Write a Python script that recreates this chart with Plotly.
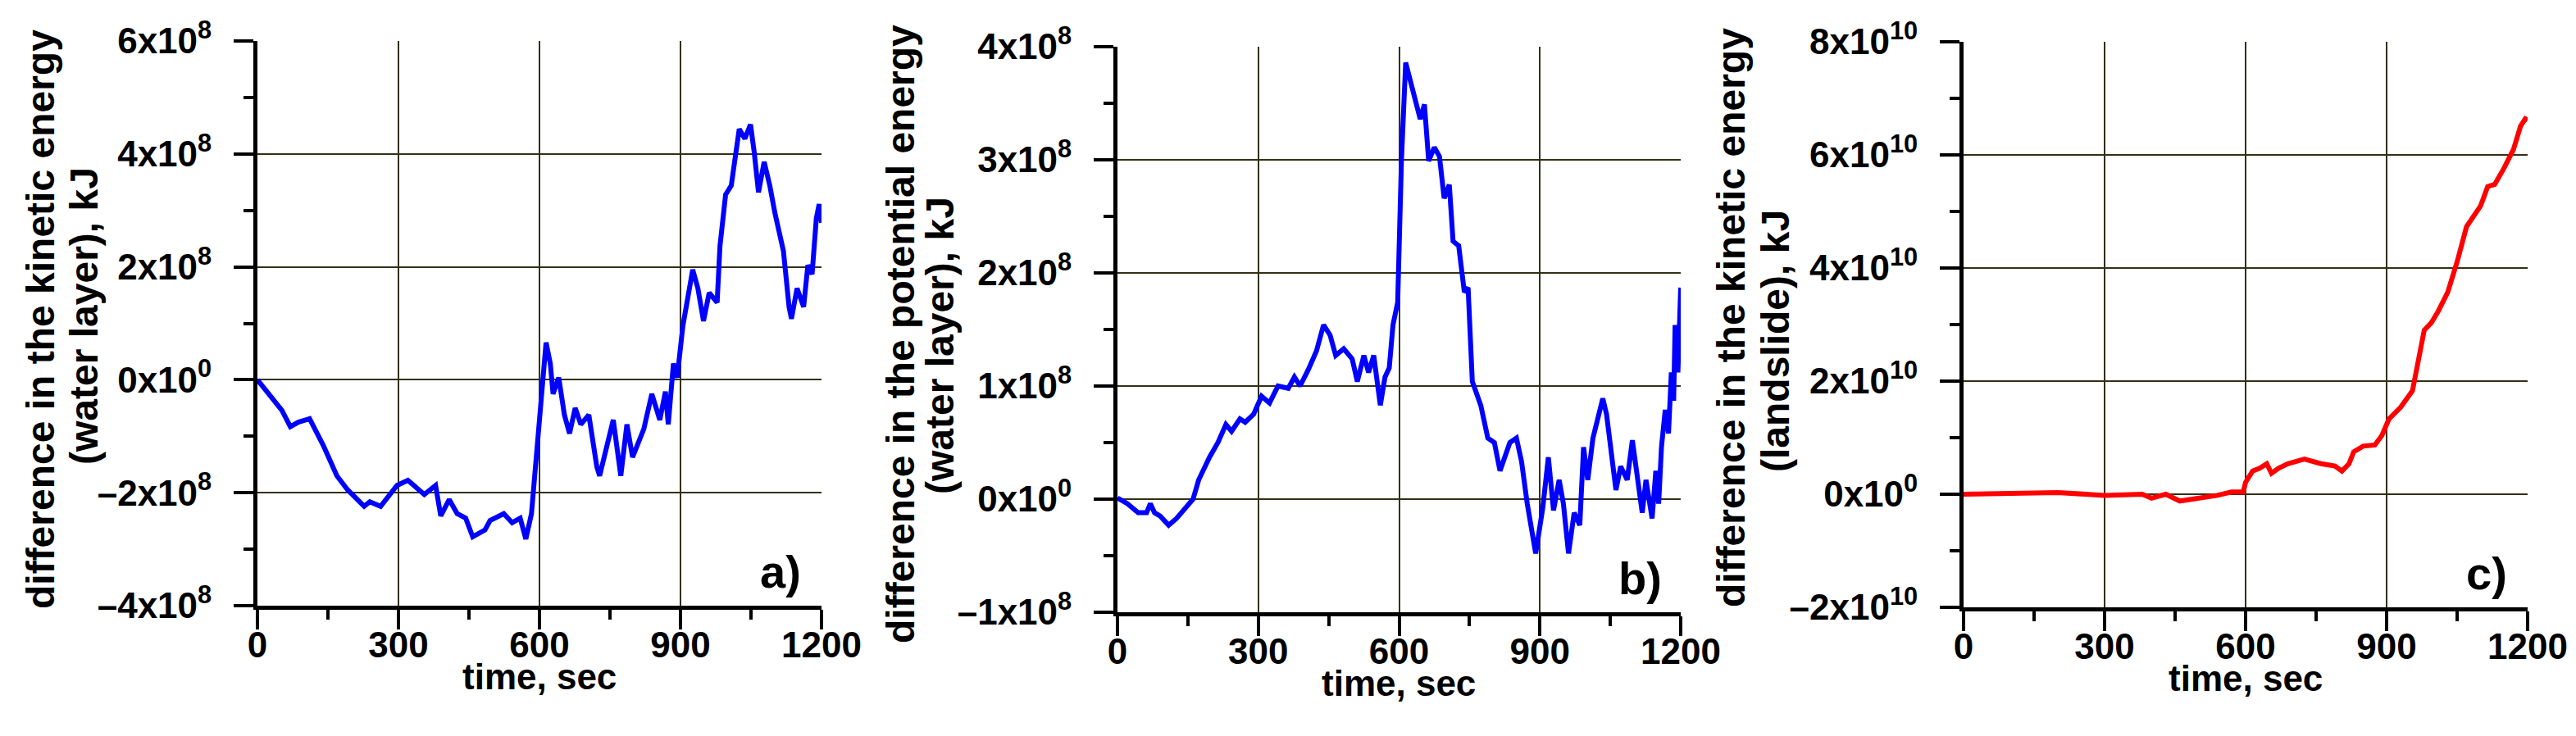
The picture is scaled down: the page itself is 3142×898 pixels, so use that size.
import plotly.graph_objects as go

# ---------------- data ----------------
# a) difference in the kinetic energy (water layer), kJ
time_a = [0, 29, 52, 70, 87, 111, 117, 140, 169, 192, 227, 239, 262, 274, 297, 320, 338, 355, 379, 390,
          408, 425, 443, 458, 484, 495, 524, 542, 559, 571, 583, 594, 602, 614, 623, 629, 641, 653, 664, 676,
          688, 705, 722, 728, 740, 757, 773, 786, 798, 822, 839, 856, 868, 874, 885, 893, 905, 915, 926, 937,
          949, 961, 978, 984, 996, 1008, 1025, 1037, 1049, 1057, 1066, 1078, 1090, 1101, 1119, 1131, 1136, 1148, 1162, 1171,
          1180, 1189, 1195, 1200]
kin_water = [0, -0.29e8, -0.54e8, -0.83e8, -0.75e8, -0.69e8, -0.79e8, -1.16e8, -1.70e8, -1.95e8,
             -2.24e8, -2.16e8, -2.24e8, -2.12e8, -1.87e8, -1.78e8, -1.91e8, -2.03e8, -1.87e8, -2.41e8,
             -2.12e8, -2.37e8, -2.45e8, -2.78e8, -2.66e8, -2.49e8, -2.37e8, -2.53e8, -2.45e8, -2.82e8,
             -2.37e8, -1.29e8, -0.46e8, 0.66e8, 0.29e8, -0.25e8, 0.04e8, -0.62e8, -0.95e8, -0.50e8,
             -0.79e8, -0.62e8, -1.54e8, -1.70e8, -1.29e8, -0.71e8, -1.70e8, -0.79e8, -1.37e8, -0.87e8,
             -0.25e8, -0.71e8, -0.21e8, -0.79e8, 0.29e8, 0.04e8, 0.95e8, 1.45e8, 1.95e8, 1.62e8,
             1.04e8, 1.54e8, 1.37e8, 2.37e8, 3.28e8, 3.44e8, 4.44e8, 4.27e8, 4.52e8, 4.02e8,
             3.32e8, 3.86e8, 3.44e8, 2.95e8, 2.28e8, 1.29e8, 1.08e8, 1.62e8, 1.29e8, 2.03e8,
             1.87e8, 2.86e8, 3.11e8, 2.78e8]

# b) difference in the potential energy (water layer), kJ
time_b = [0, 21, 44, 62, 70, 79, 91, 109, 126, 144, 161, 173, 196, 214, 231, 243, 261, 272, 290, 307,
          324, 342, 364, 377, 389, 406, 424, 439, 453, 465, 482, 500, 511, 525, 535, 546, 560, 570, 579, 587,
          597, 605, 614, 622, 634, 645, 654, 663, 675, 686, 696, 707, 715, 727, 739, 747, 756, 774, 789, 803,
          815, 826, 836, 850, 861, 873, 891, 906, 918, 929, 941, 950, 961, 973, 985, 993, 1002, 1013, 1025, 1034,
          1042, 1054, 1062, 1072, 1086, 1097, 1107, 1118, 1126, 1139, 1147, 1153, 1159, 1167, 1174, 1180, 1185, 1188, 1194, 1200]
pot_water = [0.01e8, -0.04e8, -0.12e8, -0.12e8, -0.04e8, -0.12e8, -0.15e8, -0.23e8, -0.17e8, -0.08e8,
             0.0, 0.17e8, 0.37e8, 0.50e8, 0.66e8, 0.60e8, 0.71e8, 0.68e8, 0.75e8, 0.91e8,
             0.85e8, 1.00e8, 0.98e8, 1.08e8, 1.00e8, 1.14e8, 1.31e8, 1.54e8, 1.45e8, 1.27e8,
             1.33e8, 1.24e8, 1.04e8, 1.27e8, 1.12e8, 1.27e8, 0.83e8, 1.08e8, 1.16e8, 1.54e8,
             1.74e8, 2.99e8, 3.86e8, 3.73e8, 3.53e8, 3.36e8, 3.49e8, 2.99e8, 3.11e8, 3.03e8,
             2.66e8, 2.78e8, 2.28e8, 2.24e8, 1.83e8, 1.87e8, 1.04e8, 0.83e8, 0.54e8, 0.50e8,
             0.25e8, 0.37e8, 0.50e8, 0.54e8, 0.33e8, -0.04e8, -0.48e8, -0.08e8, 0.37e8, -0.10e8,
             0.17e8, -0.04e8, -0.48e8, -0.12e8, -0.23e8, 0.46e8, 0.17e8, 0.54e8, 0.75e8, 0.89e8,
             0.75e8, 0.29e8, 0.08e8, 0.29e8, 0.17e8, 0.52e8, 0.21e8, -0.12e8, 0.17e8, -0.17e8,
             0.25e8, -0.04e8, 0.46e8, 0.79e8, 0.58e8, 1.12e8, 0.87e8, 1.54e8, 1.12e8, 1.87e8]

# c) difference in the kinetic energy (landslide), kJ
time_c = [0, 200, 300, 380, 400, 430, 460, 500, 540, 570, 595, 600, 615, 630, 645, 655, 670, 690, 710, 725,
          760, 790, 805, 820, 830, 850, 875, 890, 905, 930, 955, 965, 980, 995, 1010, 1030, 1050, 1070, 1085, 1100,
          1115, 1130, 1150, 1170, 1185, 1195, 1200]
kin_slide = [0, 0.03e10, -0.02e10, 0, -0.07e10, 0, -0.12e10, -0.07e10, -0.02e10, 0.04e10,
             0.04e10, 0.21e10, 0.41e10, 0.46e10, 0.54e10, 0.37e10, 0.46e10, 0.54e10, 0.58e10, 0.62e10,
             0.54e10, 0.50e10, 0.41e10, 0.54e10, 0.75e10, 0.85e10, 0.87e10, 1.04e10, 1.33e10, 1.54e10,
             1.83e10, 2.24e10, 2.90e10, 3.03e10, 3.24e10, 3.57e10, 4.11e10, 4.73e10, 4.90e10, 5.10e10,
             5.44e10, 5.48e10, 5.77e10, 6.10e10, 6.51e10, 6.64e10, 6.62e10]

# ticks
x_tickvals = [0, 300, 600, 900, 1200]
x_ticktext = ["0", "300", "600", "900", "1200"]
ya_tickvals = [-4e8, -2e8, 0, 2e8, 4e8, 6e8]
ya_ticktext = ["\u20134x10<sup>8</sup>", "\u20132x10<sup>8</sup>", "0x10<sup>0</sup>",
               "2x10<sup>8</sup>", "4x10<sup>8</sup>", "6x10<sup>8</sup>"]
yb_tickvals = [-1e8, 0, 1e8, 2e8, 3e8, 4e8]
yb_ticktext = ["\u20131x10<sup>8</sup>", "0x10<sup>0</sup>", "1x10<sup>8</sup>",
               "2x10<sup>8</sup>", "3x10<sup>8</sup>", "4x10<sup>8</sup>"]
yc_tickvals = [-2e10, 0, 2e10, 4e10, 6e10, 8e10]
yc_ticktext = ["\u20132x10<sup>10</sup>", "0x10<sup>0</sup>", "2x10<sup>10</sup>",
               "4x10<sup>10</sup>", "6x10<sup>10</sup>", "8x10<sup>10</sup>"]

# ---------------- styling ----------------
W, H = 3142, 898
FONT = "Liberation Sans, Arial, sans-serif"
GRID = "#333016"

# panel pixel boxes (left, right, top, bottom)
boxes = [(306, 994, 42, 731), (1355, 2042, 49, 739), (2387, 3075, 43, 733)]


def xdom(b):
    return [b[0] / W, b[1] / W]


def ydom(b):
    return [1 - b[3] / H, 1 - b[2] / H]


fig = go.Figure()
fig.add_trace(go.Scatter(x=time_a, y=kin_water, mode="lines", line=dict(color="#0000ff", width=6),
                         xaxis="x", yaxis="y", showlegend=False))
fig.add_trace(go.Scatter(x=time_b, y=pot_water, mode="lines", line=dict(color="#0000ff", width=6),
                         xaxis="x2", yaxis="y2", showlegend=False))
fig.add_trace(go.Scatter(x=time_c, y=kin_slide, mode="lines", line=dict(color="#ff0000", width=6),
                         xaxis="x3", yaxis="y3", showlegend=False))

tickfont = dict(family=FONT, size=44, color="black", weight="bold")


def xaxis_cfg(b, anchor):
    return dict(domain=xdom(b), anchor=anchor, range=[0, 1200], tickmode="array", automargin=False,
                tickvals=x_tickvals, ticktext=x_ticktext, ticks="outside", ticklen=24, tickwidth=4,
                tickcolor="black", showline=True, linewidth=5, linecolor="black",
                showgrid=True, gridcolor=GRID, gridwidth=2, zeroline=False, tickfont=tickfont,
                ticklabelstandoff=-19,
                minor=dict(tick0=0, dtick=150, ticks="outside", ticklen=12, tickwidth=4,
                           tickcolor="black", showgrid=False))


def yaxis_cfg(b, anchor, rng, tv, tt, minor_dt):
    return dict(domain=ydom(b), anchor=anchor, range=rng, tickmode="array", automargin=False,
                tickvals=tv, ticktext=tt, ticks="outside", ticklen=24, tickwidth=4,
                tickcolor="black", showline=True, linewidth=5, linecolor="black",
                showgrid=True, gridcolor=GRID, gridwidth=2, zeroline=False, tickfont=tickfont,
                ticklabelstandoff=18,
                minor=dict(tick0=0, dtick=minor_dt, ticks="outside", ticklen=12, tickwidth=4,
                           tickcolor="black", showgrid=False))


fig.update_layout(
    width=W, height=H, autosize=False,
    margin=dict(l=0, r=0, t=0, b=0, pad=0),
    paper_bgcolor="white", plot_bgcolor="white",
    font=dict(family=FONT, color="black"),
    xaxis=xaxis_cfg(boxes[0], "y"),
    yaxis=yaxis_cfg(boxes[0], "x", [-4e8, 6e8], ya_tickvals, ya_ticktext, 1e8),
    xaxis2=xaxis_cfg(boxes[1], "y2"),
    yaxis2=yaxis_cfg(boxes[1], "x2", [-1e8, 4e8], yb_tickvals, yb_ticktext, 0.5e8),
    xaxis3=xaxis_cfg(boxes[2], "y3"),
    yaxis3=yaxis_cfg(boxes[2], "x3", [-2e10, 8e10], yc_tickvals, yc_ticktext, 1e10),
)

annotations = []
# y-axis titles (two lines each)
ytitles = [
    ("difference in the kinetic energy", 41, 382, "(water layer), kJ", 94, 378),
    ("difference in the potential energy", 1090, 400, "(water layer), kJ", 1138, 414),
    ("difference in the kinetic energy", 2103, 380, "(landslide), kJ", 2158, 408),
]
for l1, x1, y1, l2, x2, y2 in ytitles:
    for txt, px, py in ((l1, x1, y1), (l2, x2, y2)):
        annotations.append(dict(text="<b>" + txt + "</b>", xref="paper", yref="paper",
                                x=px / W, y=1 - py / H, xanchor="center", yanchor="middle",
                                textangle=-90, showarrow=False,
                                font=dict(family=FONT, size=48, color="black")))
# x-axis titles
for b in boxes:
    py = b[3] + 86
    annotations.append(dict(text="<b>time, sec</b>", xref="paper", yref="paper",
                            x=(b[0] + b[1]) / 2 / W, y=1 - py / H, xanchor="center", yanchor="middle",
                            showarrow=False, font=dict(family=FONT, size=44, color="black")))
# panel letters
for lab, xr, yr in (("a)", "x domain", "y domain"), ("b)", "x2 domain", "y2 domain"),
                    ("c)", "x3 domain", "y3 domain")):
    annotations.append(dict(text="<b>" + lab + "</b>", xref=xr, yref=yr, x=0.928, y=0.06,
                            xanchor="center", yanchor="middle", showarrow=False,
                            font=dict(family=FONT, size=56, color="black")))
fig.update_layout(annotations=annotations)

fig.write_html("out.html")
